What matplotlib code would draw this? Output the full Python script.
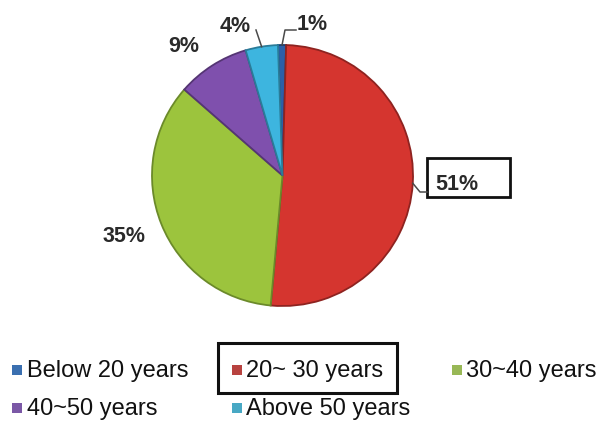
import matplotlib

matplotlib.use("Agg")

import numpy as np
from matplotlib import pyplot as plt
from matplotlib.patches import Rectangle

plt.rcParams["font.family"] = ["Liberation Sans", "DejaVu Sans"]

# age groups of respondents, share in percent
GROUPS = ["Below 20 years", "20~ 30 years", "30~40 years", "40~50 years", "Above 50 years"]
SHARES = [1, 51, 35, 9, 4]
PCT_LABELS = ["1%", "51%", "35%", "9%", "4%"]

PIE_COLORS = ["#2c5fa8", "#d5352f", "#9cc43d", "#7f50ad", "#3db5df"]
EDGE_COLORS = ["#1d3f70", "#8e2320", "#6b8a2a", "#553574", "#2a7c99"]
KEY_COLORS = ["#3a6fb0", "#b8423f", "#98b856", "#7b58a6", "#48a8c4"]

W, H = 600, 423
CX, CY, R = 282.5, 175.5, 130.5


def to_overlay(pie_ax, overlay, xy):
    disp = pie_ax.transData.transform(xy)
    return overlay.transData.inverted().transform(disp)


def main() -> None:
    fig = plt.figure(figsize=(W / 100, H / 100), dpi=100)
    fig.patch.set_facecolor("white")

    pie_ax = fig.add_axes([(CX - R) / W, 1 - (CY + R) / H, 2 * R / W, 2 * R / H])
    wedges, _ = pie_ax.pie(
        SHARES,
        colors=PIE_COLORS,
        startangle=92,
        counterclock=False,
        radius=1.0,
        wedgeprops=dict(linewidth=1.3),
    )
    for wedge, edge in zip(wedges, EDGE_COLORS):
        wedge.set_edgecolor(edge)
    pie_ax.set_xlim(-1, 1)
    pie_ax.set_ylim(-1, 1)
    pie_ax.set_axis_off()

    # overlay in pixel units for labels, leaders and the legend
    ov = fig.add_axes([0, 0, 1, 1])
    ov.set_xlim(0, W)
    ov.set_ylim(H, 0)
    ov.set_axis_off()
    ov.patch.set_visible(False)

    def anchor(i):
        w = wedges[i]
        mid = np.deg2rad((w.theta1 + w.theta2) / 2)
        return to_overlay(pie_ax, ov, (np.cos(mid), np.sin(mid)))

    pct = dict(fontsize=15.5, fontweight="bold", color="#2a2a2a", ha="left", va="baseline")
    lead = dict(color="#4a4a4a", linewidth=1.1)

    # 1% with elbow leader
    a = anchor(0)
    ov.plot([a[0], 285, 296], [a[1], 30, 30], **lead)
    ov.text(297, 30, PCT_LABELS[0], **pct)

    # 51% in a framed box
    a = anchor(1)
    ov.plot([a[0], 420, 427], [a[1], 192, 192], **lead)
    ov.add_patch(Rectangle((427, 158), 83, 39, fill=False, edgecolor="#111111", linewidth=2))
    ov.text(435, 190, PCT_LABELS[1], **pct)

    ov.text(103, 242, PCT_LABELS[2], **pct)
    ov.text(168, 52, PCT_LABELS[3], **pct)

    a = anchor(4)
    ov.plot([a[0], 256], [a[1], 30], **lead)
    ov.text(220, 32, PCT_LABELS[4], **pct)

    # legend, row-major in three columns
    key_x = [16.5, 237, 456.5]
    text_x = [27, 246, 466]
    base_y = [377, 415]
    size = 10
    for i, (name, col) in enumerate(zip(GROUPS, KEY_COLORS)):
        c, r = i % 3, i // 3
        ov.add_patch(Rectangle((key_x[c] - size / 2, base_y[r] - 2 - size), size, size,
                               facecolor=col, edgecolor="none"))
        ov.text(text_x[c], base_y[r], name, fontsize=17, color="#111111",
                ha="left", va="baseline")

    ov.add_patch(Rectangle((218, 343), 179, 50, fill=False, edgecolor="#111111", linewidth=2.2))

    fig.savefig("out.png", dpi=100, facecolor="white")


if __name__ == "__main__":
    main()
